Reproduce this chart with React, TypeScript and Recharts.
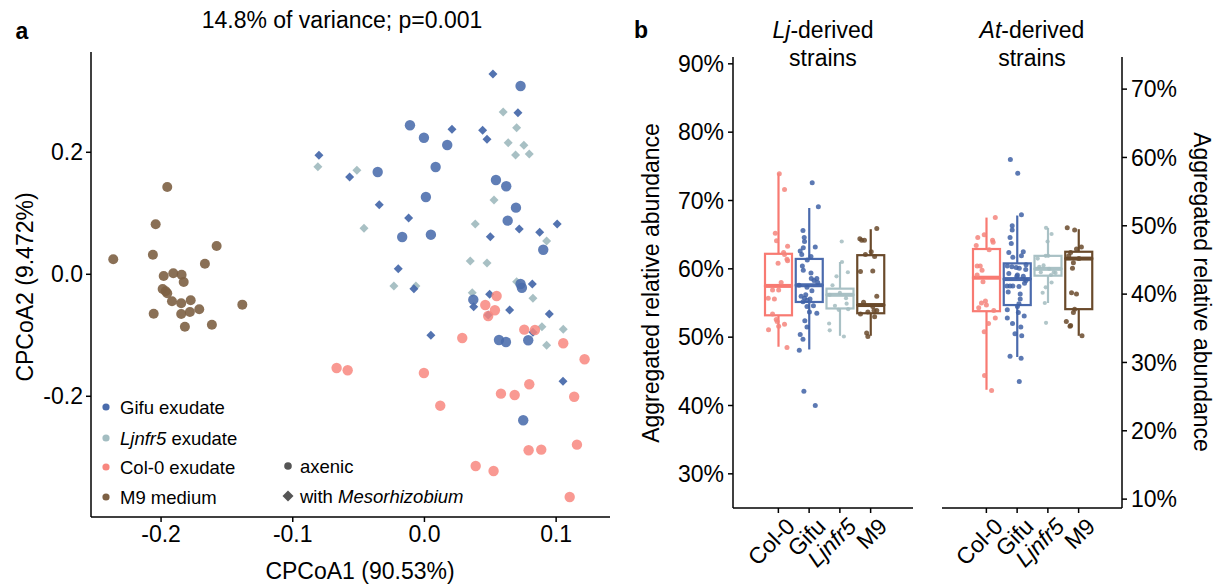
import React from 'react';
import { ScatterChart, Scatter, XAxis, YAxis, ComposedChart, Bar } from 'recharts';

const FONT = '"Liberation Sans", Arial, Helvetica, sans-serif';

// ---- panel a: CPCoA scores [CPCoA1, CPCoA2] ----
const gifuAxenic = [
  [0.073, 0.3087], [-0.011, 0.2443], [-0.0004, 0.2239], [0.0173, 0.212], [0.0085, 0.1759],
  [-0.0355, 0.1677], [0.0543, 0.1546], [0.0621, 0.1443], [0.0011, 0.1267], [0.0695, 0.1092],
  [0.0632, 0.0879], [-0.0169, 0.0611], [0.0049, 0.0649], [0.0902, 0.0403], [0.073, -0.0159],
  [0.074, -0.022], [0.0371, -0.0416], [0.0566, -0.1077], [0.0619, -0.111], [0.0788, -0.1082],
  [0.075, -0.2393],
];
const gifuMeso = [
  [0.052, 0.3284], [0.071, 0.2649], [0.0209, 0.2377], [0.0442, 0.2361], [0.0475, 0.2213],
  [-0.0801, 0.1951], [-0.0568, 0.1595], [-0.0343, 0.1141], [-0.012, 0.0923], [0.1008, 0.0825],
  [0.072, 0.0743], [0.0875, 0.0689], [0.05, 0.0616], [-0.0199, 0.0092], [-0.008, -0.0236],
  [0.0819, -0.0159], [0.0495, -0.0328], [0.0374, -0.0531], [0.0647, -0.0585], [0.0948, -0.0651],
  [0.0484, -0.0667], [0.0824, -0.0951], [0.0049, -0.1], [0.1052, -0.1754],
];
const ljnfr5Meso = [
  [0.0598, 0.2661], [0.07, 0.2403], [0.0636, 0.2157], [0.0755, 0.2115], [0.0692, 0.1956],
  [0.0796, 0.1972], [-0.0809, 0.1764], [-0.0513, 0.1705], [0.0528, 0.1218], [0.0386, 0.0825],
  [-0.0459, 0.0754], [0.0928, 0.0546], [0.0348, 0.0218], [0.0475, 0.0185], [-0.0232, -0.0192],
  [-0.0065, -0.0192], [0.07, -0.0121], [0.0824, -0.0393], [0.0363, -0.0302], [0.0892, -0.0859],
  [0.1054, -0.0902], [0.0928, -0.1164],
];
const col0Axenic = [
  [0.0548, -0.0356], [0.0462, -0.0503], [0.0535, -0.059], [0.0484, -0.0684], [0.0758, -0.0908],
  [0.0839, -0.0913], [0.0287, -0.1044], [0.1054, -0.1131], [0.1216, -0.1393], [-0.0667, -0.1536],
  [-0.0583, -0.1574], [-0.0004, -0.1618], [0.0796, -0.1803], [0.0581, -0.1957], [0.0685, -0.1979],
  [0.1137, -0.2007], [0.012, -0.2154], [0.1158, -0.2793], [0.0791, -0.2885], [0.0887, -0.2875],
  [0.0389, -0.3143], [0.0525, -0.3225], [0.1103, -0.3651],
];
const m9Axenic = [
  [-0.1953, 0.1431], [-0.2041, 0.082], [-0.1578, 0.0464], [-0.2062, 0.0321], [-0.2363, 0.0246],
  [-0.1667, 0.0174], [-0.198, -0.0028], [-0.1907, 0.0016], [-0.1844, -0.0007], [-0.1828, -0.0126],
  [-0.1988, -0.0241], [-0.1965, -0.0279], [-0.1953, -0.0311], [-0.1917, -0.0443], [-0.1847, -0.0475],
  [-0.1775, -0.0426], [-0.1383, -0.0498], [-0.2056, -0.0646], [-0.1847, -0.0651], [-0.1781, -0.0618],
  [-0.171, -0.0574], [-0.1819, -0.0859], [-0.1614, -0.0826],
];
const xTicksA = [-0.2, -0.1, 0, 0.1];
const yTicksA = [-0.2, 0, 0.2];

// ---- panel b: aggregated relative abundance (%) ----
const groups = ['Col-0', 'Gifu', 'Ljnfr5', 'M9'];
// [lower whisker, q1, median, q3, upper whisker]
const ljStats = [
  [48.6, 53.2, 57.5, 62.2, 74.0],
  [48.2, 55.15, 57.6, 61.45, 68.9],
  [50.2, 54.2, 56.2, 57.1, 61.0],
  [50.2, 53.5, 54.7, 62.0, 65.8],
];
const atStats = [
  [26.0, 37.5, 42.4, 46.6, 51.2],
  [30.8, 38.4, 42.2, 44.5, 51.5],
  [38.7, 42.7, 43.7, 45.6, 49.7],
  [33.9, 37.8, 45.2, 46.2, 49.5],
];
// [jitter (fraction of category), value]
const ljCol0 = [[0.03, 73.9], [0.2, 71.6], [-0.1, 65.2], [-0.06, 64.1], [0.3, 63.3], [0.17, 62.4], [0.2, 62.1], [0.28, 61.4], [0.3, 61.2], [-0.01, 60.8], [0.09, 58.0], [-0.19, 56.9], [0.01, 56.9], [-0.33, 55.7], [-0.13, 55.6], [-0.19, 53.4], [-0.07, 52.6], [-0.04, 52.3], [0.2, 51.9], [0.01, 51.6], [-0.32, 51.1], [0.28, 48.5]];
const ljGifu = [[0.1, 72.6], [0.3, 69.1], [-0.2, 65.6], [-0.16, 64.6], [-0.15, 64.0], [0.2, 63.2], [-0.19, 63.1], [-0.29, 62.6], [-0.24, 62.1], [0.06, 61.8], [-0.06, 61.3], [-0.22, 60.4], [-0.19, 59.8], [0.06, 59.4], [0.07, 58.6], [0.25, 58.6], [0.16, 58.3], [0.28, 58.0], [-0.33, 57.6], [-0.07, 57.3], [0.09, 56.8], [-0.11, 56.2], [-0.26, 56.0], [-0.15, 55.7], [0.03, 55.6], [-0.06, 55.4], [-0.2, 55.2], [0.14, 54.6], [-0.07, 54.5], [0.01, 53.7], [0.25, 53.5], [-0.14, 52.4], [-0.07, 51.5], [-0.29, 50.4], [-0.2, 49.7], [-0.32, 48.1], [-0.17, 42.1], [0.2, 40.0]];
const ljLjnfr5 = [[0.06, 64.0], [0.07, 61.0], [0.26, 59.5], [-0.11, 58.9], [-0.24, 57.6], [0, 56.5], [-0.33, 56.2], [0.2, 55.7], [-0.16, 54.6], [0.22, 54.9], [-0.04, 54.0], [0.27, 54.1], [-0.35, 52.0], [-0.33, 51.0], [0.13, 50.1]];
const ljM9 = [[0.2, 65.9], [-0.35, 64.4], [-0.29, 64.2], [-0.2, 64.2], [0.02, 62.5], [-0.17, 62.1], [0.13, 61.8], [-0.33, 59.6], [0.07, 59.7], [0.2, 56.0], [-0.23, 55.1], [0.07, 54.5], [-0.33, 53.4], [-0.09, 53.7], [0.11, 53.9], [0.2, 53.9], [0.13, 53.0], [-0.13, 50.6], [-0.09, 50.1]];
const atCol0 = [[0.29, 51.2], [-0.07, 48.7], [-0.28, 48.3], [0.2, 47.9], [0.22, 47.6], [-0.33, 47.1], [0.09, 46.5], [-0.3, 44.1], [-0.2, 44.1], [-0.14, 43.5], [-0.3, 42.8], [-0.11, 41.8], [-0.03, 39.0], [-0.16, 38.7], [0, 38.4], [-0.25, 38.0], [0.24, 37.6], [0.29, 36.5], [0.07, 35.7], [-0.07, 34.5], [-0.06, 28.1], [0.17, 25.9]];
const atGifu = [[-0.22, 59.7], [0.02, 57.7], [0.14, 51.6], [-0.16, 50.0], [-0.16, 49.4], [-0.23, 48.3], [-0.19, 47.4], [-0.14, 45.4], [0.14, 45.6], [0.2, 46.2], [-0.27, 46.1], [-0.32, 44.1], [-0.17, 44.0], [-0.03, 43.9], [0.07, 43.8], [0.29, 44.3], [0.28, 43.6], [-0.27, 43.0], [0.01, 42.8], [-0.01, 42.6], [0.2, 42.6], [0.29, 42.0], [0.24, 41.6], [-0.33, 41.2], [-0.23, 41.2], [-0.14, 41.2], [0.06, 41.1], [-0.29, 40.3], [0.1, 40.0], [0.1, 39.3], [0.06, 38.6], [0.01, 38.2], [-0.32, 37.7], [0.04, 37.3], [0.23, 36.8], [-0.32, 36.5], [-0.15, 35.7], [0.12, 35.2], [-0.07, 34.2], [0.15, 33.9], [-0.23, 30.9], [0.13, 30.6], [0.07, 27.2]];
const atLjnfr5 = [[-0.06, 49.7], [0.12, 48.8], [-0.01, 47.7], [-0.33, 45.2], [-0.07, 45.6], [0.01, 45.6], [-0.14, 44.2], [-0.28, 44.0], [0.04, 43.7], [-0.23, 43.2], [0.19, 43.2], [0.25, 43.1], [0.1, 42.8], [-0.07, 41.0], [0.12, 41.7], [-0.17, 40.2], [-0.1, 38.7], [-0.06, 35.8]];
const atM9 = [[-0.37, 49.7], [-0.13, 49.4], [0.09, 46.9], [-0.07, 46.6], [-0.26, 46.1], [-0.32, 45.6], [0.01, 45.2], [-0.17, 44.6], [-0.2, 43.8], [-0.23, 40.2], [-0.07, 40.0], [-0.13, 37.8], [-0.17, 37.3], [-0.4, 36.0], [-0.26, 35.4], [-0.28, 35.3], [0.11, 33.9]];
const ljTicks = [30, 40, 50, 60, 70, 80, 90];
const atTicks = [10, 20, 30, 40, 50, 60, 70];

const GIFU = '#4A6CAC';
const LJNFR5 = '#A3BDC1';
const COL0 = '#F8877F';
const M9 = '#7D6044';
const boxColors = ['#F87A72', '#4A6AAD', '#A9C1C5', '#6A4A2B'];
const dotColors = ['#F4857D', '#3F62A6', '#A3BCC0', '#6A4A2B'];

const pts = (arr: number[][]) => arr.map(([x, y]) => ({ x, y }));

const circleShape = (r: number, color: string, op = 0.88) => (p: any) => (
  <circle cx={p.cx} cy={p.cy} r={r} fill={color} fillOpacity={op} />
);
const diamondShape = (h: number, color: string) => (p: any) => (
  <polygon
    points={`${p.cx},${p.cy - h} ${p.cx + h},${p.cy} ${p.cx},${p.cy + h} ${p.cx - h},${p.cy}`}
    fill={color}
    fillOpacity={0.95}
  />
);

const axisStroke = { stroke: '#000', strokeWidth: 1.5 };
const tickStyle = { fontSize: 23, fill: '#000', fontFamily: FONT };

const Txt = ({ x, y, size = 23, rotate = 0, bold = false, children }: any) => (
  <div
    style={{
      position: 'absolute',
      left: x,
      top: y,
      transform: `translate(-50%, -50%) rotate(${rotate}deg)`,
      whiteSpace: 'nowrap',
      fontSize: size,
      fontFamily: FONT,
      fontWeight: bold ? 'bold' : 'normal',
      lineHeight: 1,
      color: '#000',
    }}
  >
    {children}
  </div>
);

const boxRows = (stats: number[][]) =>
  stats.map(([lo, q1, med, q3, hi], i) => ({
    name: groups[i],
    base: lo,
    w1: q1 - lo,
    b1: med - q1,
    b2: q3 - med,
    w2: hi - q3,
    color: boxColors[i],
  }));

const whisker = (p: any) => {
  const cx = p.x + p.width / 2;
  return <line x1={cx} x2={cx} y1={p.y} y2={p.y + p.height} stroke={p.payload.color} strokeWidth={2.2} />;
};
const lowerBox = (p: any) => (
  <rect x={p.x} y={p.y} width={p.width} height={p.height} fill="#fff" fillOpacity={0} stroke={p.payload.color} strokeWidth={2.2} />
);
const upperBox = (p: any) => (
  <g>
    <rect x={p.x} y={p.y} width={p.width} height={p.height} fill="#fff" fillOpacity={0} stroke={p.payload.color} strokeWidth={2.2} />
    <line x1={p.x} x2={p.x + p.width} y1={p.y + p.height} y2={p.y + p.height} stroke={p.payload.color} strokeWidth={4} />
  </g>
);

const CatTick = ({ x, y, payload }: any) => {
  const v = payload.value;
  const ax = x + 6;
  const ay = y + 1;
  return (
    <text
      x={ax}
      y={ay}
      transform={`rotate(-45 ${ax} ${ay})`}
      textAnchor="end"
      dominantBaseline="hanging"
      fontSize={23}
      fontFamily={FONT}
      fontStyle={v === 'Ljnfr5' ? 'italic' : 'normal'}
      fill="#000"
    >
      {v}
    </text>
  );
};

const BoxPanel = ({ stats, points, ticks, domain, side }: any) => {
  const rows = boxRows(stats);
  const pad = side === 'left' ? { left: 30, right: 27 } : { left: 29, right: 28 };
  return (
    <ComposedChart
      width={270}
      height={588}
      data={rows}
      margin={side === 'left' ? { top: 57, right: 10, bottom: 10, left: 0 } : { top: 57, right: 0, bottom: 10, left: 10 }}
    >
      <XAxis
        xAxisId="cat"
        dataKey="name"
        type="category"
        padding={pad}
        height={70}
        axisLine={axisStroke}
        tickLine={axisStroke}
        tickSize={5}
        tick={<CatTick />}
        interval={0}
      />
      <XAxis xAxisId="num" dataKey="x" type="number" domain={[0, 4]} padding={pad} hide allowDataOverflow />
      <YAxis
        orientation={side}
        type="number"
        domain={domain}
        ticks={ticks}
        allowDataOverflow
        width={80}
        axisLine={axisStroke}
        tickLine={axisStroke}
        tickSize={5}
        tickMargin={4}
        tick={tickStyle}
        tickFormatter={(v: number) => `${v}%`}
      />
      <Bar xAxisId="cat" dataKey="base" stackId="s" barSize={27} shape={() => null} isAnimationActive={false} />
      <Bar xAxisId="cat" dataKey="w1" stackId="s" barSize={27} shape={whisker} isAnimationActive={false} />
      <Bar xAxisId="cat" dataKey="b1" stackId="s" barSize={27} shape={lowerBox} isAnimationActive={false} />
      <Bar xAxisId="cat" dataKey="b2" stackId="s" barSize={27} shape={upperBox} isAnimationActive={false} />
      <Bar xAxisId="cat" dataKey="w2" stackId="s" barSize={27} shape={whisker} isAnimationActive={false} />
      {points.map((arr: number[][], i: number) => (
        <Scatter
          key={groups[i]}
          xAxisId="num"
          dataKey="y"
          data={arr.map(([j, v]) => ({ x: i + 0.5 + j, y: v }))}
          shape={circleShape(i === 2 ? 2.1 : 2.5, dotColors[i], 0.85)}
          isAnimationActive={false}
        />
      ))}
    </ComposedChart>
  );
};

const Legend = () => {
  const items = [
    { label: 'Gifu exudate', color: GIFU, y: 407 },
    { label: 'Ljnfr5', rest: ' exudate', color: LJNFR5, y: 438 },
    { label: 'Col-0 exudate', color: COL0, y: 467 },
    { label: 'M9 medium', color: M9, y: 497 },
  ];
  return (
    <svg width={620} height={588} style={{ position: 'absolute', left: 0, top: 0 }}>
      {items.map((it) => (
        <g key={it.label}>
          <circle cx={106} cy={it.y} r={3.6} fill={it.color} />
          <text x={120} y={it.y} dominantBaseline="central" fontSize={18.5} fontFamily={FONT} fill="#000">
            {it.rest ? (
              <>
                <tspan fontStyle="italic">{it.label}</tspan>
                <tspan>{it.rest}</tspan>
              </>
            ) : (
              it.label
            )}
          </text>
        </g>
      ))}
      <circle cx={288} cy={466} r={3.8} fill="#555" />
      <text x={300} y={466} dominantBaseline="central" fontSize={18.5} fontFamily={FONT} fill="#000">axenic</text>
      <polygon points="288,490.5 293.5,496 288,501.5 282.5,496" fill="#555" />
      <text x={300} y={496} dominantBaseline="central" fontSize={18.5} fontFamily={FONT} fill="#000">
        with <tspan fontStyle="italic">Mesorhizobium</tspan>
      </text>
    </svg>
  );
};

export default function App() {
  return (
    <div style={{ position: 'absolute', left: 0, top: 0, width: 1223, height: 588, background: '#fff', overflow: 'hidden' }}>
      <div style={{ position: 'absolute', left: 0, top: 0 }}>
        <ScatterChart width={620} height={588} margin={{ top: 52, right: 10, bottom: 31, left: 41 }}>
          <XAxis
            type="number"
            dataKey="x"
            domain={[-0.2532, 0.1409]}
            ticks={xTicksA}
            allowDataOverflow
            height={40}
            axisLine={axisStroke}
            tickLine={axisStroke}
            tickSize={5}
            tickMargin={4}
            tick={tickStyle}
            tickFormatter={(v: number) => v.toFixed(1)}
          />
          <YAxis
            type="number"
            dataKey="y"
            domain={[-0.3979, 0.3644]}
            ticks={yTicksA}
            allowDataOverflow
            width={50}
            axisLine={axisStroke}
            tickLine={axisStroke}
            tickSize={5}
            tickMargin={3}
            tick={tickStyle}
            tickFormatter={(v: number) => v.toFixed(1)}
          />
          <Scatter data={pts(ljnfr5Meso)} shape={diamondShape(4.5, LJNFR5)} isAnimationActive={false} />
          <Scatter data={pts(gifuMeso)} shape={diamondShape(4.5, GIFU)} isAnimationActive={false} />
          <Scatter data={pts(gifuAxenic)} shape={circleShape(5.2, GIFU)} isAnimationActive={false} />
          <Scatter data={pts(col0Axenic)} shape={circleShape(5.2, COL0, 0.85)} isAnimationActive={false} />
          <Scatter data={pts(m9Axenic)} shape={circleShape(5, M9, 0.9)} isAnimationActive={false} />
        </ScatterChart>
      </div>
      <Legend />

      <div style={{ position: 'absolute', left: 653, top: 0 }}>
        <BoxPanel stats={ljStats} points={[ljCol0, ljGifu, ljLjnfr5, ljM9]} ticks={ljTicks} domain={[25.0, 91.0]} side="left" />
      </div>
      <div style={{ position: 'absolute', left: 932, top: 0 }}>
        <BoxPanel stats={atStats} points={[atCol0, atGifu, atLjnfr5, atM9]} ticks={atTicks} domain={[8.7, 74.7]} side="right" />
      </div>

      <Txt x={22} y={31} size={23} bold>a</Txt>
      <Txt x={641} y={30} size={23} bold>b</Txt>
      <Txt x={342} y={20}>14.8% of variance; p=0.001</Txt>
      <Txt x={360} y={571}>CPCoA1 (90.53%)</Txt>
      <Txt x={25} y={287} rotate={-90}>CPCoA2 (9.472%)</Txt>
      <Txt x={651} y={283} rotate={-90}>Aggregated relative abundance</Txt>
      <Txt x={1201} y={292} rotate={90}>Aggregated relative abundance</Txt>
      <div style={{ position: 'absolute', left: 823, top: 44, transform: 'translate(-50%, -50%)', textAlign: 'center', fontSize: 23, fontFamily: FONT, lineHeight: '28px', whiteSpace: 'nowrap' }}>
        <i>Lj</i>-derived<br />strains
      </div>
      <div style={{ position: 'absolute', left: 1032, top: 44, transform: 'translate(-50%, -50%)', textAlign: 'center', fontSize: 23, fontFamily: FONT, lineHeight: '28px', whiteSpace: 'nowrap' }}>
        <i>At</i>-derived<br />strains
      </div>
    </div>
  );
}
